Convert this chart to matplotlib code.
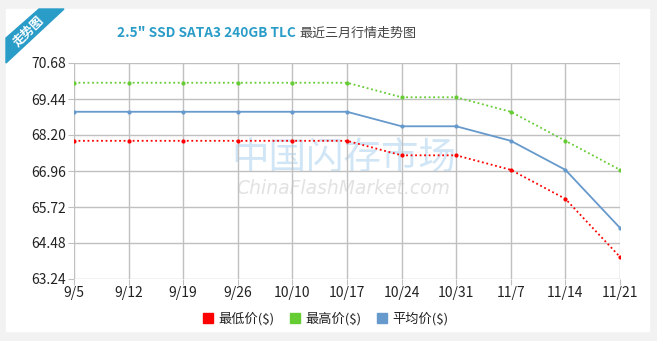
import matplotlib
matplotlib.use("Agg")
import matplotlib.pyplot as plt
from matplotlib.patches import Rectangle, Polygon

plt.rcParams['font.family'] = ['Noto Sans CJK SC', 'DejaVu Sans']

dates = ["9/5", "9/12", "9/19", "9/26", "10/10", "10/17", "10/24", "10/31", "11/7", "11/14", "11/21"]
low = [68, 68, 68, 68, 68, 68, 67.5, 67.5, 67, 66, 64]
high = [70, 70, 70, 70, 70, 70, 69.5, 69.5, 69, 68, 67]
avg = [69, 69, 69, 69, 69, 69, 68.5, 68.5, 68, 67, 65]
yticks = [63.24, 64.48, 65.72, 66.96, 68.20, 69.44, 70.68]
series_names = ["最低价($)", "最高价($)", "平均价($)"]

W, H = 657, 341
fig = plt.figure(figsize=(W / 100, H / 100), dpi=100)
fig.patch.set_facecolor("white")

# card background and shadow
bg = fig.add_axes([0, 0, 1, 1])
bg.set_xlim(0, W)
bg.set_ylim(H, 0)
bg.axis("off")
bg.add_patch(Rectangle((0, 0), W, H, color="#f2f2f2", zorder=0))
bg.add_patch(Rectangle((6, 9), 643, 322, color="white", zorder=1))
# ribbon
bg.add_patch(Polygon([(6, 38), (39, 9), (64, 9), (6, 63)], closed=True, color="#2a9cc8", zorder=2))
bg.text(29, 31, "走势图", rotation=45, color="white", fontsize=9, ha="center", va="center",
        fontweight="bold", zorder=3, rotation_mode="anchor")
# title
bg.text(296, 33, '2.5" SSD SATA3 240GB TLC', color="#2a9cc8", fontsize=9.8, fontweight="bold",
        ha="right", va="center", zorder=3)
bg.text(299, 33, "最近三月行情走势图", color="#444444", fontsize=9.4,
        ha="left", va="center", zorder=3)
# watermark
bg.text(344, 159, "中国闪存市场", color="#d0e6f6", fontsize=27, ha="center", va="center", zorder=1.5)
bg.text(343, 189, "ChinaFlashMarket.com", color="#e2e2e2", fontsize=13.5, ha="center", va="center",
        zorder=1.5, style="italic", family="DejaVu Sans")

x0, x1, yt, yb = 74, 620, 63, 279
ax = fig.add_axes([x0 / W, 1 - yb / H, (x1 - x0) / W, (yb - yt) / H])
ax.patch.set_alpha(0)
xs = list(range(len(dates)))
ax.plot(xs, low, color="#ff0000", linestyle=(0, (1, 1.5)), linewidth=1.3, marker="o", markersize=2, zorder=3)
ax.plot(xs, high, color="#66cc33", linestyle=(0, (1, 1.5)), linewidth=1.3, marker="o", markersize=2, zorder=3)
ax.plot(xs, avg, color="#6699cc", linestyle="-", linewidth=1.3, marker="o", markersize=2, zorder=3)
ax.set_xlim(0, len(dates) - 1)
ax.set_ylim(yticks[0], yticks[-1])
ax.set_xticks(xs)
ax.set_xticklabels(dates)
ax.set_yticks(yticks)
ax.set_yticklabels([f"{v:.2f}" for v in yticks])
ax.grid(True, color="#c0c0c0", linewidth=1)
for s in ax.spines.values():
    s.set_visible(False)
ax.tick_params(axis="both", length=4, color="#c0c0c0", labelsize=10, labelcolor="#222222", pad=1)
ax.tick_params(axis="y", pad=2)

# legend
colors = ["#ff0000", "#66cc33", "#6699cc"]
lx = [203, 290, 377]
for c, name, xx in zip(colors, series_names, lx):
    bg.add_patch(Rectangle((xx, 313), 10, 10, color=c, zorder=3))
    bg.text(xx + 15, 319, name, fontsize=9.5, color="#222222", va="center", ha="left", zorder=3)

fig.savefig("out.png", dpi=100)
